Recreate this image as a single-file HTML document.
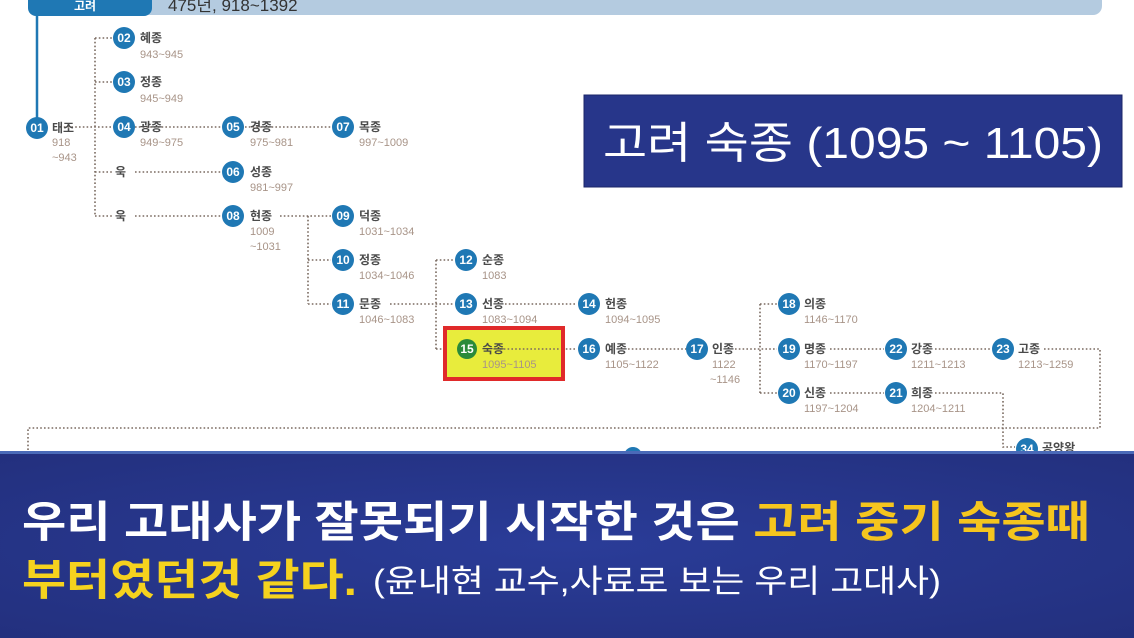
<!DOCTYPE html>
<html><head><meta charset="utf-8"><style>
html,body{margin:0;padding:0;background:#fff;width:1134px;height:638px;overflow:hidden}
svg{display:block}
.n{font-family:"Liberation Sans","Noto Sans CJK KR",sans-serif;font-size:12px;font-weight:bold;fill:#4a4a4a}
.y{font-family:"Liberation Sans","Noto Sans CJK KR",sans-serif;font-size:11px;fill:#a89488}
.c{fill:#1f78b4}
.cn{font-family:"Liberation Sans","Noto Sans CJK KR",sans-serif;font-size:12px;font-weight:bold;fill:#fff}
.d{stroke:#7a6a60;stroke-width:1.6;stroke-dasharray:1.6 2.2;fill:none}
</style></head><body>
<svg width="1134" height="638" viewBox="0 0 1134 638" xmlns="http://www.w3.org/2000/svg">
<defs>
<radialGradient id="bg" cx="50%" cy="50%" r="70%">
<stop offset="0" stop-color="#2a3c98"/><stop offset="1" stop-color="#23307e"/>
</radialGradient>
</defs>
<!-- top bar -->
<rect x="140" y="-10" width="962" height="25" rx="9" fill="#b4cbe0"/>
<rect x="28" y="-10" width="124" height="26" rx="8" fill="#1f78b4"/>
<text x="74" y="10" class="cn" font-size="14">고려</text>
<text x="168" y="11" font-family="Liberation Sans,Noto Sans CJK KR,sans-serif" font-size="17" fill="#333">475년, 918~1392</text>
<line x1="37" y1="15" x2="37" y2="120" stroke="#1f78b4" stroke-width="2.5"/>

<!-- dotted connectors -->
<g class="d">
<path d="M60 127 H112"/>
<path d="M95 38 V216"/>
<path d="M95 38 H112 M95 82 H112 M95 172 H112 M95 216 H112"/>
<path d="M135 127 H222 M245 127 H331"/>
<path d="M135 172 H222 M135 216 H222"/>
<path d="M280 216 H331 M308 216 V304 M308 260 H331 M308 304 H331"/>
<path d="M390 304 H454 M436 260 V349 M436 260 H454 M436 349 H454"/>
<path d="M505 304 H577 M505 349 H577 M628 349 H686 M735 349 H777"/>
<path d="M760 304 V393 M760 304 H777 M760 393 H777"/>
<path d="M830 349 H884 M935 349 H991 M1044 349 H1100 V428 H28 V452"/>
<path d="M830 393 H884 M935 393 H1003 V447 H1015"/>
</g>

<!-- highlight -->
<rect x="445" y="328" width="118" height="51" fill="#e8ec3c" stroke="#e02a2a" stroke-width="4"/>
<line x1="500" y1="349" x2="560" y2="349" class="d"/>

<g>
<circle cx="37" cy="128" r="11" class="c"/><text x="37" y="132" class="cn" text-anchor="middle">01</text>
<text x="52" y="132" class="n">태조</text><text x="52" y="146" class="y">918</text><text x="52" y="161" class="y">~943</text>

<circle cx="124" cy="38" r="11" class="c"/><text x="124" y="42" class="cn" text-anchor="middle">02</text>
<text x="140" y="42" class="n">혜종</text><text x="140" y="58" class="y">943~945</text>
<circle cx="124" cy="82" r="11" class="c"/><text x="124" y="86" class="cn" text-anchor="middle">03</text>
<text x="140" y="86" class="n">정종</text><text x="140" y="102" class="y">945~949</text>
<circle cx="124" cy="127" r="11" class="c"/><text x="124" y="131" class="cn" text-anchor="middle">04</text>
<text x="140" y="131" class="n">광종</text><text x="140" y="146" class="y">949~975</text>
<text x="115" y="176" class="n">욱</text><text x="115" y="220" class="n">욱</text>

<circle cx="233" cy="127" r="11" class="c"/><text x="233" y="131" class="cn" text-anchor="middle">05</text>
<text x="250" y="131" class="n">경종</text><text x="250" y="146" class="y">975~981</text>
<circle cx="233" cy="172" r="11" class="c"/><text x="233" y="176" class="cn" text-anchor="middle">06</text>
<text x="250" y="176" class="n">성종</text><text x="250" y="191" class="y">981~997</text>
<circle cx="233" cy="216" r="11" class="c"/><text x="233" y="220" class="cn" text-anchor="middle">08</text>
<text x="250" y="220" class="n">현종</text><text x="250" y="235" class="y">1009</text><text x="250" y="250" class="y">~1031</text>

<circle cx="343" cy="127" r="11" class="c"/><text x="343" y="131" class="cn" text-anchor="middle">07</text>
<text x="359" y="131" class="n">목종</text><text x="359" y="146" class="y">997~1009</text>
<circle cx="343" cy="216" r="11" class="c"/><text x="343" y="220" class="cn" text-anchor="middle">09</text>
<text x="359" y="220" class="n">덕종</text><text x="359" y="235" class="y">1031~1034</text>
<circle cx="343" cy="260" r="11" class="c"/><text x="343" y="264" class="cn" text-anchor="middle">10</text>
<text x="359" y="264" class="n">정종</text><text x="359" y="279" class="y">1034~1046</text>
<circle cx="343" cy="304" r="11" class="c"/><text x="343" y="308" class="cn" text-anchor="middle">11</text>
<text x="359" y="308" class="n">문종</text><text x="359" y="323" class="y">1046~1083</text>

<circle cx="466" cy="260" r="11" class="c"/><text x="466" y="264" class="cn" text-anchor="middle">12</text>
<text x="482" y="264" class="n">순종</text><text x="482" y="279" class="y">1083</text>
<circle cx="466" cy="304" r="11" class="c"/><text x="466" y="308" class="cn" text-anchor="middle">13</text>
<text x="482" y="308" class="n">선종</text><text x="482" y="323" class="y">1083~1094</text>
<circle cx="467" cy="349" r="10" fill="#2a8a3a"/><text x="467" y="353" class="cn" text-anchor="middle">15</text>
<text x="482" y="353" class="n" fill="#6a6a30">숙종</text><text x="482" y="368" class="y" fill="#a8984a">1095~1105</text>

<circle cx="589" cy="304" r="11" class="c"/><text x="589" y="308" class="cn" text-anchor="middle">14</text>
<text x="605" y="308" class="n">헌종</text><text x="605" y="323" class="y">1094~1095</text>
<circle cx="589" cy="349" r="11" class="c"/><text x="589" y="353" class="cn" text-anchor="middle">16</text>
<text x="605" y="353" class="n">예종</text><text x="605" y="368" class="y">1105~1122</text>
<circle cx="697" cy="349" r="11" class="c"/><text x="697" y="353" class="cn" text-anchor="middle">17</text>
<text x="712" y="353" class="n">인종</text><text x="712" y="368" class="y">1122</text><text x="710" y="383" class="y">~1146</text>

<circle cx="789" cy="304" r="11" class="c"/><text x="789" y="308" class="cn" text-anchor="middle">18</text>
<text x="804" y="308" class="n">의종</text><text x="804" y="323" class="y">1146~1170</text>
<circle cx="789" cy="349" r="11" class="c"/><text x="789" y="353" class="cn" text-anchor="middle">19</text>
<text x="804" y="353" class="n">명종</text><text x="804" y="368" class="y">1170~1197</text>
<circle cx="789" cy="393" r="11" class="c"/><text x="789" y="397" class="cn" text-anchor="middle">20</text>
<text x="804" y="397" class="n">신종</text><text x="804" y="412" class="y">1197~1204</text>

<circle cx="896" cy="349" r="11" class="c"/><text x="896" y="353" class="cn" text-anchor="middle">22</text>
<text x="911" y="353" class="n">강종</text><text x="911" y="368" class="y">1211~1213</text>
<circle cx="896" cy="393" r="11" class="c"/><text x="896" y="397" class="cn" text-anchor="middle">21</text>
<text x="911" y="397" class="n">희종</text><text x="911" y="412" class="y">1204~1211</text>
<circle cx="1003" cy="349" r="11" class="c"/><text x="1003" y="353" class="cn" text-anchor="middle">23</text>
<text x="1018" y="353" class="n">고종</text><text x="1018" y="368" class="y">1213~1259</text>
<circle cx="1027" cy="449" r="11" class="c"/><text x="1027" y="453" class="cn" text-anchor="middle">34</text>
<text x="1042" y="452" class="n">공양왕</text>
<circle cx="633" cy="456" r="9" class="c"/>
</g>

<!-- title box -->
<rect x="584" y="95" width="538" height="92" fill="#27368a" stroke="#1b2668" stroke-width="1"/>
<text x="853" y="158" text-anchor="middle" font-family="Liberation Sans,Noto Sans CJK KR,sans-serif" font-size="44" fill="#fff" textLength="500" lengthAdjust="spacingAndGlyphs">고려 숙종 (1095 ~ 1105)</text>

<!-- bottom banner -->
<rect x="0" y="452" width="1134" height="186" fill="url(#bg)"/>
<rect x="0" y="451" width="1134" height="3" fill="#4a6ab8"/>
<text x="22" y="537" font-family="Liberation Sans,Noto Sans CJK KR,sans-serif" font-size="43" font-weight="bold" textLength="1068" lengthAdjust="spacingAndGlyphs"><tspan fill="#fff">우리 고대사가 잘못되기 시작한 것은 </tspan><tspan fill="#f5c51e">고려 중기 숙종때</tspan></text>
<text x="22" y="595" font-family="Liberation Sans,Noto Sans CJK KR,sans-serif" font-size="43" font-weight="bold" fill="#f5d21e" textLength="335" lengthAdjust="spacingAndGlyphs">부터였던것 같다.</text>
<text x="373" y="592" font-family="Liberation Sans,Noto Sans CJK KR,sans-serif" font-size="32" fill="#fff" textLength="568" lengthAdjust="spacingAndGlyphs">(윤내현 교수,사료로 보는 우리 고대사)</text>
</svg>
</body></html>
